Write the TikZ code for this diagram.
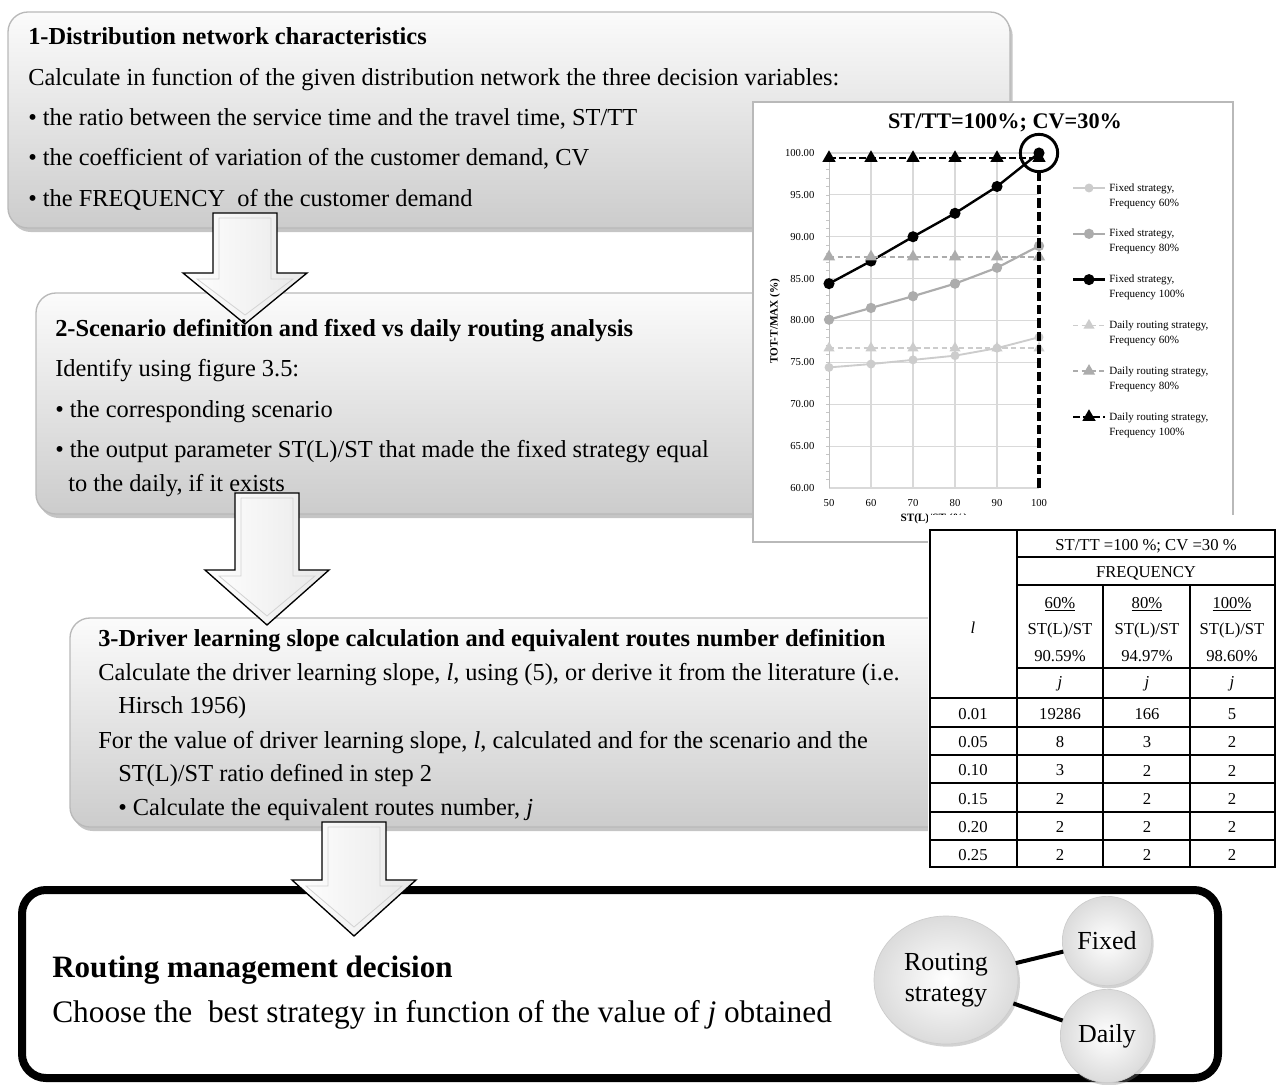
\documentclass[tikz,border=0pt]{standalone}
\usepackage{fontspec}
\setmainfont{Liberation Serif}
\usetikzlibrary{shapes.geometric,shadows,plotmarks}

\tikzset{
    stepbox/.style={rounded corners=15pt, top color=gray!3, bottom color=gray!40,
        draw=gray!55, line width=1pt,
        drop shadow={shadow xshift=2pt, shadow yshift=-3pt, opacity=.45}},
    downarrow/.style={draw=black, line width=1pt, left color=white, right color=gray!18},
    bevel/.style={draw=gray!35, line width=.6pt},
    boxline/.style={anchor=base west, inner sep=0pt, font=\fontsize{18.3}{22}\selectfont},
    boxhead/.style={boxline, font=\fontsize{18.3}{22}\selectfont\bfseries},
    gridline/.style={gray!30, line width=.8pt},
    tick/.style={font=\fontsize{8}{9}\selectfont, inner sep=1pt},
    legtext/.style={anchor=west, align=left, inner sep=0pt, font=\fontsize{8.3}{11.2}\selectfont},
    fix60/.style={color=gray!40, line width=1.4pt, mark=*, mark size=2.6pt},
    fix80/.style={color=gray!65, line width=1.6pt, mark=*, mark size=3pt},
    fix100/.style={color=black, line width=1.8pt, mark=*, mark size=3.2pt},
    day60/.style={color=gray!40, line width=1.3pt, dash pattern=on 4pt off 2.5pt,
        mark=triangle*, mark size=3.5pt, mark options={solid}},
    day80/.style={color=gray!65, line width=1.5pt, dash pattern=on 4pt off 2.5pt,
        mark=triangle*, mark size=3.8pt, mark options={solid}},
    day100/.style={color=black, line width=1.8pt, dash pattern=on 5pt off 2.5pt,
        mark=triangle*, mark size=4pt, mark options={solid}},
    tabline/.style={line width=1.1pt},
    tabtext/.style={inner sep=0pt, font=\fontsize{12.5}{14}\selectfont},
    bubble/.style={inner color=white, outer color=gray!28, draw=gray!40, line width=.5pt,
        align=center, inner sep=0pt, font=\fontsize{19.5}{23}\selectfont,
        drop shadow={shadow xshift=1.5pt, shadow yshift=-2pt, opacity=.35}},
    link/.style={line width=3pt}
}

% стрелка вниз: центр, верх, плечи, остриё
\newcommand{\flowarrow}[4]{%
    \draw[downarrow] ({#1-32},#2) -- ({#1+32},#2) -- ({#1+32},#3) -- ({#1+62},#3)
        -- (#1,#4) -- ({#1-62},#3) -- ({#1-32},#3) -- cycle;
    \draw[bevel] ({#1-26},{#2+5}) -- ({#1+26},{#2+5}) -- ({#1+26},{#3+6}) -- ({#1+48},{#3+6})
        -- (#1,{#4-9}) -- ({#1-48},{#3+6}) -- ({#1-26},{#3+6}) -- cycle;
}

\begin{document}
\begin{tikzpicture}[x=0.75pt, y=-0.75pt]
    \useasboundingbox (0,0) rectangle (1276,1084);
    \fill[white] (0,0) rectangle (1276,1084);

    % Блоки 1--3
    \draw[stepbox] (8,12) rectangle (1010,228);
    \draw[stepbox] (36,293) rectangle (800,514);
    \draw[stepbox] (70,618) rectangle (960,827);

    % Итоговый блок
    \draw[line width=6pt, rounded corners=18pt, fill=white] (22,890) rectangle (1218,1078);

    % График
    \draw[gray!55, fill=white, line width=1pt] (753,102) rectangle (1233,542);
    \node[font=\fontsize{16.7}{19}\selectfont\bfseries] (chart-title) at (1005,123) {ST/TT=100\%; CV=30\%};
    \node[rotate=90, font=\fontsize{8.4}{10}\selectfont\bfseries] (ylabel) at (775,321) {TOT-T/MAX (\%)};
    \node[font=\fontsize{8.4}{10}\selectfont\bfseries] (xlabel) at (934,519) {ST(L)/ST (\%)};
    \begin{scope}[shift={(619,990.5)}, x=3.15pt, y=6.28125pt]
        \foreach \v in {60,65,...,100}
            \draw[gridline] (50,\v) -- (100,\v);
        \foreach \u in {60,70,...,90}
            \draw[gridline] (\u,60) -- (\u,100);
        \draw[gray!50] (50,60) -- (50,100);
        \foreach \v in {61,...,99}
            \draw[gray!45] (50,\v) -- +(-2.5pt,0);
        \foreach \v in {60,65,...,100}
            \node[tick, anchor=east] (ytick\v) at (46.9,\v) {\v.00};
        \foreach \u in {50,60,...,100}
            \node[tick] (xtick\u) at (\u,58.2) {\u};

        \draw[fix60] plot coordinates {(50,74.4) (60,74.8) (70,75.3) (80,75.8) (90,76.7) (100,78.0)};
        \draw[fix80] plot coordinates {(50,80.1) (60,81.5) (70,82.9) (80,84.4) (90,86.3) (100,88.9)};
        \draw[fix100] plot coordinates {(50,84.4) (60,87.1) (70,90.0) (80,92.8) (90,96.0) (100,100.0)};
        \draw[day60] plot coordinates {(50,76.7) (60,76.7) (70,76.7) (80,76.7) (90,76.7) (100,76.7)};
        \draw[day80] plot coordinates {(50,87.6) (60,87.6) (70,87.6) (80,87.6) (90,87.6) (100,87.6)};
        \draw[day100] plot coordinates {(50,99.4) (60,99.4) (70,99.4) (80,99.4) (90,99.4) (100,99.4)};

        % точка равенства
        \coordinate (peak) at (100,100);
        \draw[line width=2.2pt] (peak) circle (14pt);
        \draw[line width=3.5pt, dash pattern=on 7pt off 3pt] ([yshift=-14pt]peak) -- (100,60);
    \end{scope}

    % Легенда
    \foreach \sty/\nm/\fr [count=\k from 0] in {fix60/Fixed/60, fix80/Fixed/80, fix100/Fixed/100,
        day60/Daily routing/60, day80/Daily routing/80, day100/Daily routing/100} {
        \draw[\sty] (1073,{188+45.8*\k}) -- (1105,{188+45.8*\k});
        \draw[\sty] plot coordinates {(1089,{188+45.8*\k})};
        \node[legtext] (leg\k) at (1109,{196+45.8*\k}) {\nm\ strategy,\\Frequency \fr\%};
    }

    % Таблица
    \fill[white] (928,515) rectangle (1276,869);
    \draw[tabline] (930,530) rectangle (1275,867);
    \draw[tabline] (1017,530) -- (1017,867);
    \foreach \yy in {557,585,668}
        \draw[tabline] (1017,\yy) -- (1275,\yy);
    \foreach \yy in {698,727,755,783,812,840}
        \draw[tabline] (930,\yy) -- (1275,\yy);
    \draw[tabline] (1103,585) -- (1103,867) (1190,585) -- (1190,867);
    \node[tabtext] (t-l) at (973,628) {\textit{l}};
    \node[tabtext] (t-scen) at (1146,546) {ST/TT =100 \%; CV =30 \%};
    \node[tabtext] (t-freq) at (1146,573) {FREQUENCY};
    \foreach \cx/\pc/\st [count=\c] in {1060/60/90.59, 1147/80/94.97, 1232/100/98.60} {
        \node[tabtext] (t-pc\c) at (\cx,604) {\underline{\pc\%}};
        \node[tabtext] (t-st\c) at (\cx,630) {ST(L)/ST};
        \node[tabtext] (t-val\c) at (\cx,656) {\st\%};
        \node[tabtext] (t-j\c) at (\cx,684) {\textit{j}};
    }
    \foreach \lv/\ja/\jb/\jc [count=\r] in {0.01/19286/166/5, 0.05/8/3/2, 0.10/3/2/2,
        0.15/2/2/2, 0.20/2/2/2, 0.25/2/2/2} {
        \node[tabtext] (t-lv\r) at (973,{686+28.17*\r}) {\lv};
        \node[tabtext] (t-ja\r) at (1060,{686+28.17*\r}) {\ja};
        \node[tabtext] (t-jb\r) at (1147,{686+28.17*\r}) {\jb};
        \node[tabtext] (t-jc\r) at (1232,{686+28.17*\r}) {\jc};
    }

    % Стрелки
    \flowarrow{245}{213}{273}{324}
    \flowarrow{267}{493}{570}{625}
    \flowarrow{354}{822}{880}{936}

    % Тексты блоков
    \node[boxhead] (step1) at (28,45) {1-Distribution network characteristics};
    \foreach \txt [count=\i] in {Calculate in function of the given distribution network the three decision variables:,
        {• the ratio between the service time and the travel time, ST/TT},
        {• the coefficient of variation of the customer demand, CV},
        {• the FREQUENCY\ \ of the customer demand}}
        \node[boxline] (step1-\i) at (28,{45+40.3*\i}) {\txt};

    \node[boxhead] (step2) at (55,336) {2-Scenario definition and fixed vs daily routing analysis};
    \node[boxline] (step2-1) at (55,376) {Identify using figure 3.5:};
    \node[boxline] (step2-2) at (55,417) {• the corresponding scenario};
    \node[boxline] (step2-3) at (55,457) {• the output parameter ST(L)/ST that made the fixed strategy equal};
    \node[boxline] (step2-4) at (68,491) {to the daily, if it exists};

    \node[boxhead] (step3) at (98,646) {3-Driver learning slope calculation and equivalent routes number definition};
    \node[boxline] (step3-1) at (98,680) {Calculate the driver learning slope, \textit{l}, using (5), or derive it from the literature (i.e.};
    \node[boxline] (step3-2) at (118,713) {Hirsch 1956)};
    \node[boxline] (step3-3) at (98,748) {For the value of driver learning slope, \textit{l}, calculated and for the scenario and the};
    \node[boxline] (step3-4) at (118,781) {ST(L)/ST ratio defined in step 2};
    \node[boxline] (step3-5) at (118,815) {• Calculate the equivalent routes number, \textit{j}};

    \node[boxhead, font=\fontsize{23.3}{27}\selectfont\bfseries] (decision) at (52,977) {Routing management decision};
    \node[boxline, font=\fontsize{23.5}{27}\selectfont] (choice) at (52,1022) {Choose the\ \ best strategy in function of the value of \textit{j} obtained};

    % Стратегия маршрутизации
    \node[bubble, ellipse, minimum width=108pt, minimum height=96pt] (routing) at (946,980) {Routing\\strategy};
    \node[bubble, circle, minimum size=67pt] (fixed) at (1107,941) {Fixed};
    \node[bubble, circle, minimum size=70pt] (daily) at (1107,1036) {Daily};
    \draw[link] (routing) -- (fixed);
    \draw[link] (routing) -- (daily);
\end{tikzpicture}
\end{document}
